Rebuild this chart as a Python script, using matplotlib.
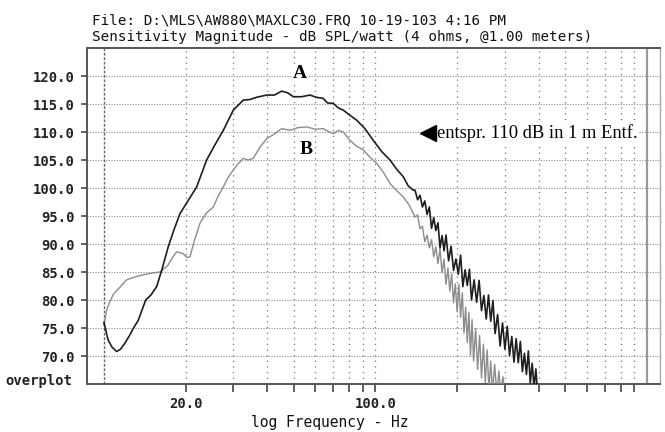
import matplotlib
matplotlib.use("Agg")
import matplotlib.pyplot as plt
from matplotlib.ticker import FixedLocator, NullFormatter, FixedFormatter

# ---------------- data ----------------
freq_a = [10.0, 10.35, 10.7, 11.14, 11.5, 11.95, 12.4, 12.82, 13.38, 14.25, 14.9, 15.64,
          16.32, 17.25, 18.1, 19.05, 20.45, 21.96, 23.89, 25.7, 27.52, 29.95, 32.61, 34.5,
          36.53, 39.77, 42.5, 45.16, 47.5, 49.83, 53.5, 57.41, 60.5, 64.27, 66.5, 69.98,
          73.0, 76.15, 80.5, 85.33, 91.5, 98.24, 105.5, 113.2, 120.0, 126.7, 132.0, 137.9,
          140, 143, 146, 149, 152, 155, 158, 161, 164, 167, 170, 173, 176, 179, 182, 186,
          190, 194, 198, 202, 206, 210, 214, 218, 222, 226, 231, 236, 241, 246, 251, 256,
          261, 266, 271, 276, 282, 288, 294, 300, 306, 312, 318, 324, 330, 336, 342, 348,
          354, 360, 366, 372, 378, 384, 390, 396, 402, 405]
level_a = [76.0, 72.9, 71.6, 70.8, 71.2, 72.3, 73.6, 74.9, 76.4, 80.0, 80.9, 82.4,
           85.3, 89.5, 92.5, 95.4, 97.8, 100.2, 105.0, 107.8, 110.3, 113.9, 115.7, 115.8,
           116.2, 116.6, 116.6, 117.3, 117.0, 116.3, 116.3, 116.6, 116.2, 116.0, 115.2, 115.1,
           114.3, 113.9, 113.0, 112.1, 110.6, 108.5, 106.5, 105.0, 103.3, 102.0, 100.4, 99.6,
           99.6, 97.9, 98.7, 96.6, 97.7, 95.3, 96.6, 92.8, 94.7, 92.4, 93.8, 89.3, 91.5, 88.8,
           91.6, 87.0, 89.6, 85.3, 87.3, 84.6, 88.0, 82.4, 85.4, 82.6, 85.5, 80.0, 83.6, 79.6,
           83.5, 78.1, 80.8, 76.6, 80.9, 76.2, 79.9, 74.0, 77.4, 71.8, 75.9, 71.2, 75.3, 70.1,
           73.5, 68.9, 73.1, 68.8, 72.6, 67.2, 70.5, 66.7, 70.9, 65.2, 68.7, 64.4, 67.7, 63.2,
           64.5, 62.0]

freq_b = [10.0, 10.23, 10.5, 10.79, 11.2, 11.46, 12.12, 13.0, 13.96, 15.0, 16.08, 17.21,
          18.0, 18.53, 19.2, 19.55, 20.2, 20.75, 21.5, 22.58, 23.8, 25.28, 26.3, 27.52,
          28.6, 29.95, 31.2, 32.61, 34.0, 35.49, 37.56, 39.77, 42.3, 45.16, 48.45, 52.0,
          55.82, 60.0, 64.27, 67.0, 69.98, 73.0, 76.15, 80.62, 85.0, 90.25, 95.5, 101.1,
          107.0, 113.2, 120.0, 126.7, 133.0,
          140, 143, 146, 149, 152, 155, 158, 161, 164, 167, 170, 173, 176, 179, 182, 185,
          188, 191, 194, 197, 200, 203, 206, 209, 212, 215, 218, 221, 224, 227, 230, 234,
          238, 242, 246, 250, 254, 258, 262, 266, 270, 275, 280, 285, 290, 295, 300, 306]
level_b = [75.5, 78.2, 79.6, 80.9, 81.8, 82.3, 83.6, 84.1, 84.5, 84.8, 85.0, 86.2,
           87.8, 88.6, 88.4, 88.3, 87.6, 87.7, 90.5, 93.7, 95.5, 96.6, 98.5, 100.2,
           101.8, 103.2, 104.3, 105.3, 105.0, 105.3, 107.3, 108.8, 109.6, 110.6, 110.3, 110.8,
           110.9, 110.5, 110.6, 110.1, 109.7, 110.3, 110.0, 108.5, 107.5, 106.8, 105.5, 104.4,
           102.8, 100.8, 99.5, 98.4, 97.0,
           94.8, 95.2, 92.7, 93.2, 90.4, 91.6, 89.3, 90.8, 87.7, 89.5, 86.5, 89.1, 84.9, 87.3,
           82.8, 85.7, 81.6, 84.7, 79.5, 82.9, 77.9, 82.8, 76.9, 81.3, 74.1, 78.7, 72.4, 77.8,
           70.1, 76.5, 69.1, 74.9, 67.6, 73.7, 66.1, 72.1, 65.2, 71.1, 63.8, 69.1, 63.5, 68.5,
           63.3, 67.3, 63.3, 66.3, 63.2, 64.9]

y_ticks = [70, 75, 80, 85, 90, 95, 100, 105, 110, 115, 120]
x_major = [20, 100]
x_major_labels = ["20.0", "100.0"]
x_minor = [30, 40, 50, 60, 70, 80, 90, 200, 300, 400, 500, 600, 700, 800, 900]
x_grid = [20, 30, 40, 50, 60, 70, 80, 90, 100, 200, 300, 400, 500, 600, 700, 800, 900]

title1 = r"File: D:\MLS\AW880\MAXLC30.FRQ 10-19-103 4:16 PM"
title2 = "Sensitivity Magnitude - dB SPL/watt (4 ohms, @1.00 meters)"
xlabel = "log Frequency - Hz"
note = "entspr. 110 dB in 1 m Entf."
note_f, note_db = 168.6, 109.8
arrow_f = 156.2

# ---------------- figure ----------------
W, H = 665, 432
fig = plt.figure(figsize=(W / 100, H / 100), dpi=100)
ax = fig.add_axes([87 / W, 1 - 384 / H, (660 - 87) / W, (384 - 48) / H])
ax.set_xscale("log")
ax.set_xlim(8.66, 1118)
ax.set_ylim(65, 125)

mono = "DejaVu Sans Mono"

# grid
for y in y_ticks:
    ax.axhline(y, color="#8a8a8a", lw=0.8, ls=(0, (1, 1.4)), zorder=1)
for x in x_grid:
    ax.axvline(x, color="#777777", lw=0.9, ls=(0, (1, 3.5)), zorder=1)
ax.axvline(10, color="#666666", lw=1.0, ls=(0, (2, 1.2)), zorder=1)
ax.axvline(1000, color="#9a9a9a", lw=1.6, ls="-", zorder=1)

# curves
ax.plot(freq_b, level_b, color="#8c8c8c", lw=1.0, zorder=3)
ax.plot(freq_a, level_a, color="#1e1e1e", lw=1.2, zorder=4)

# labels A / B
ax.text(52.75, 120.5, "A", fontsize=14, fontweight="bold", family="Liberation Serif",
        ha="center", va="center", zorder=5,
        bbox=dict(facecolor="white", edgecolor="none", pad=0))
ax.text(55.5, 106.9, "B", fontsize=14, fontweight="bold", family="Liberation Serif",
        ha="center", va="center", zorder=5,
        bbox=dict(facecolor="white", edgecolor="none", pad=0))

# annotation
ax.plot([arrow_f], [note_db], marker="<", markersize=12, color="black", zorder=6)
ax.text(note_f, note_db, note, fontsize=13.3, family="Liberation Serif",
        ha="left", va="center", zorder=5,
        bbox=dict(facecolor="white", edgecolor="none", pad=1))

# spines
for s in ["left", "bottom", "top"]:
    ax.spines[s].set_color("#555555")
    ax.spines[s].set_linewidth(1.4)
ax.spines["right"].set_color("#aaaaaa")
ax.spines["right"].set_linewidth(1.0)

# ticks
ax.yaxis.set_major_locator(FixedLocator(y_ticks))
ax.set_yticklabels([f"{v:.1f}" for v in y_ticks])
ax.yaxis.set_minor_locator(FixedLocator([]))
ax.xaxis.set_major_locator(FixedLocator(x_major))
ax.xaxis.set_major_formatter(FixedFormatter(x_major_labels))
ax.xaxis.set_minor_locator(FixedLocator(x_minor))
ax.xaxis.set_minor_formatter(NullFormatter())
ax.tick_params(axis="y", which="major", direction="out", length=4.5, width=1.2,
               color="#444444", pad=4.5, labelsize=10, labelcolor="#222222")
ax.tick_params(axis="x", which="both", direction="out", length=5.5, width=1.2,
               color="#444444", pad=3.5, labelsize=10, labelcolor="#222222")
for lab in ax.get_yticklabels() + ax.get_xticklabels():
    lab.set_family(mono)
    lab.set_fontweight("bold")

# texts
fig.text(92 / W, 1 - 20.7 / H, title1, family=mono, fontsize=10.3, ha="left", va="center",
         color="#111111")
fig.text(92 / W, 1 - 37.3 / H, title2, family=mono, fontsize=10.3, ha="left", va="center",
         color="#111111")
fig.text(5 / W, 1 - 381 / H, "overplot", family=mono, fontsize=10, fontweight="bold",
         ha="left", va="center", color="#222222")
fig.text(330 / W, 1 - 422 / H, xlabel, family=mono, fontsize=10.5, ha="center", va="center",
         color="#111111")

fig.savefig("out.png", dpi=100)
